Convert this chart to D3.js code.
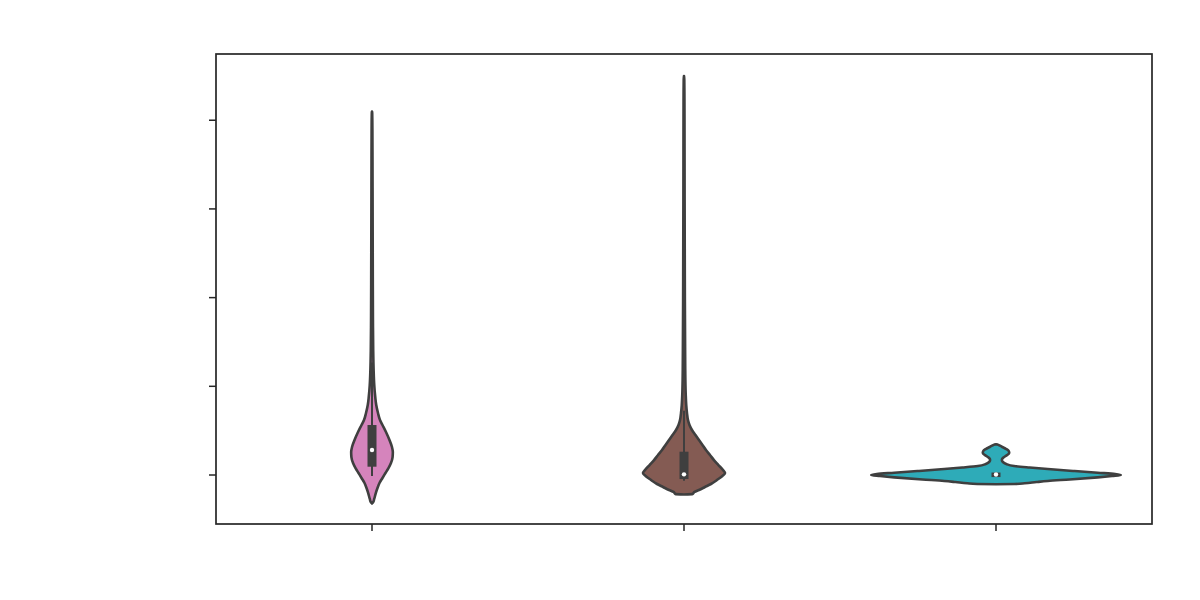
<!DOCTYPE html>
<html>
<head>
<meta charset="utf-8">
<script src="https://cdn.jsdelivr.net/npm/d3@7"></script>
<style>
  html, body { margin: 0; padding: 0; background: #ffffff; }
  svg { display: block; }
</style>
</head>
<body>
<svg id="chart" width="1200" height="600"></svg>
<script>
// ---------- data ----------
const categories = ["A", "B", "C"];
const colors = ["#d584bc", "#845b53", "#2eabb8"];
const yTicks = [0, 1, 2, 3, 4];

// density profiles (value along y, relative density; 1 = widest violin)
const pinkVals = [-0.327, -0.310, -0.276, -0.209, -0.152, -0.096, -0.039, 0.017, 0.073, 0.130, 0.197, 0.254, 0.310, 0.389, 0.479, 0.558, 0.614, 0.693, 0.783, 0.874, 1.009, 1.178, 1.404, 1.742, 2.193, 2.644, 3.095, 3.546, 3.884, 4.076, 4.092];
const pinkDens = [0, 0.0096, 0.0176, 0.0304, 0.044, 0.060, 0.084, 0.108, 0.132, 0.152, 0.165, 0.167, 0.160, 0.140, 0.112, 0.084, 0.064, 0.048, 0.034, 0.026, 0.018, 0.013, 0.0096, 0.0076, 0.0064, 0.0056, 0.0048, 0.004, 0.0032, 0.0016, 0];

const brownVals = [-0.225, -0.220, -0.197, -0.175, -0.141, -0.107, -0.062, -0.017, 0.017, 0.051, 0.107, 0.163, 0.220, 0.276, 0.333, 0.389, 0.445, 0.502, 0.558, 0.614, 0.693, 0.783, 0.896, 1.065, 1.404, 1.968, 2.531, 3.095, 3.659, 4.222, 4.448, 4.493];
const brownDens = [0, 0.068, 0.084, 0.120, 0.168, 0.216, 0.264, 0.308, 0.329, 0.3125, 0.276, 0.240, 0.208, 0.176, 0.148, 0.120, 0.092, 0.064, 0.044, 0.032, 0.024, 0.018, 0.014, 0.011, 0.009, 0.007, 0.006, 0.005, 0.0044, 0.0036, 0.0024, 0];

const cyanVals = [-0.110, -0.107, -0.099, -0.085, -0.073, -0.056, -0.032, -0.017, -0.006, 0.006, 0.020, 0.039, 0.062, 0.079, 0.096, 0.118, 0.141, 0.163, 0.186, 0.209, 0.242, 0.265, 0.287, 0.310, 0.333, 0.340];
const cyanDens = [0, 0.150, 0.230, 0.325, 0.415, 0.590, 0.815, 0.930, 1.0, 0.955, 0.815, 0.630, 0.415, 0.270, 0.145, 0.082, 0.055, 0.047, 0.055, 0.078, 0.106, 0.102, 0.082, 0.050, 0.020, 0];

// inner box statistics per category
const q1s      = [0.088, -0.051, -0.022];
const q3s      = [0.558,  0.257,  0.022];
const medians  = [0.276,  0.002,  0.000];
const whiskLo  = [-0.017, -0.070, -0.025];
const whiskHi  = [1.263,  0.720,  0.025];

// ---------- layout ----------
const margin = { left: 216, right: 48, top: 54, bottom: 76 };
const W = 1200, H = 600;
const svg = d3.select("#chart");

const x = d3.scaleBand().domain(categories)
  .range([margin.left, W - margin.right]).padding(0);
const y = d3.scaleLinear().domain([-0.558, 4.741])
  .range([H - margin.bottom, margin.top]);
const w = d3.scaleLinear().domain([0, 1]).range([0, x.bandwidth() * 0.4]);

const profiles = [
  pinkVals.map((v, i) => ({ v, d: pinkDens[i] })),
  brownVals.map((v, i) => ({ v, d: brownDens[i] })),
  cyanVals.map((v, i) => ({ v, d: cyanDens[i] }))
];

const plot = svg.append("g");

categories.forEach((c, i) => {
  const cx = x(c) + x.bandwidth() / 2;
  const area = d3.area()
    .y(p => y(p.v))
    .x0(p => cx - w(p.d))
    .x1(p => cx + w(p.d))
    .curve(d3.curveMonotoneY);
  plot.append("path")
    .datum(profiles[i])
    .attr("d", area)
    .attr("fill", colors[i])
    .attr("stroke", "#3f3f3f")
    .attr("stroke-width", 2.6)
    .attr("stroke-linejoin", "round");

  // whisker
  plot.append("line")
    .attr("x1", cx).attr("x2", cx)
    .attr("y1", y(whiskLo[i])).attr("y2", y(whiskHi[i]))
    .attr("stroke", "#3f3f3f").attr("stroke-width", 2);
  // box
  plot.append("rect")
    .attr("x", cx - 4.5).attr("width", 9)
    .attr("y", y(q3s[i])).attr("height", Math.max(4.5, y(q1s[i]) - y(q3s[i])))
    .attr("fill", "#3f3f3f");
  // median
  plot.append("circle")
    .attr("cx", cx).attr("cy", y(medians[i]))
    .attr("r", 2.2).attr("fill", "#ffffff");
});

// ---------- axes ----------
const yAxis = d3.axisLeft(y).tickValues(yTicks).tickSize(7).tickFormat("");
const xAxis = d3.axisBottom(x).tickSize(7).tickFormat("");

const gy = svg.append("g").attr("transform", `translate(${margin.left},0)`).call(yAxis);
const gx = svg.append("g").attr("transform", `translate(0,${H - margin.bottom})`).call(xAxis);
[gx, gy].forEach(g => {
  g.select(".domain").remove();
  g.selectAll(".tick line").attr("stroke", "#262626").attr("stroke-width", 1.5);
});

// frame
svg.append("rect")
  .attr("x", margin.left).attr("y", margin.top)
  .attr("width", W - margin.left - margin.right)
  .attr("height", H - margin.top - margin.bottom)
  .attr("fill", "none")
  .attr("stroke", "#262626")
  .attr("stroke-width", 1.7);
</script>
</body>
</html>
